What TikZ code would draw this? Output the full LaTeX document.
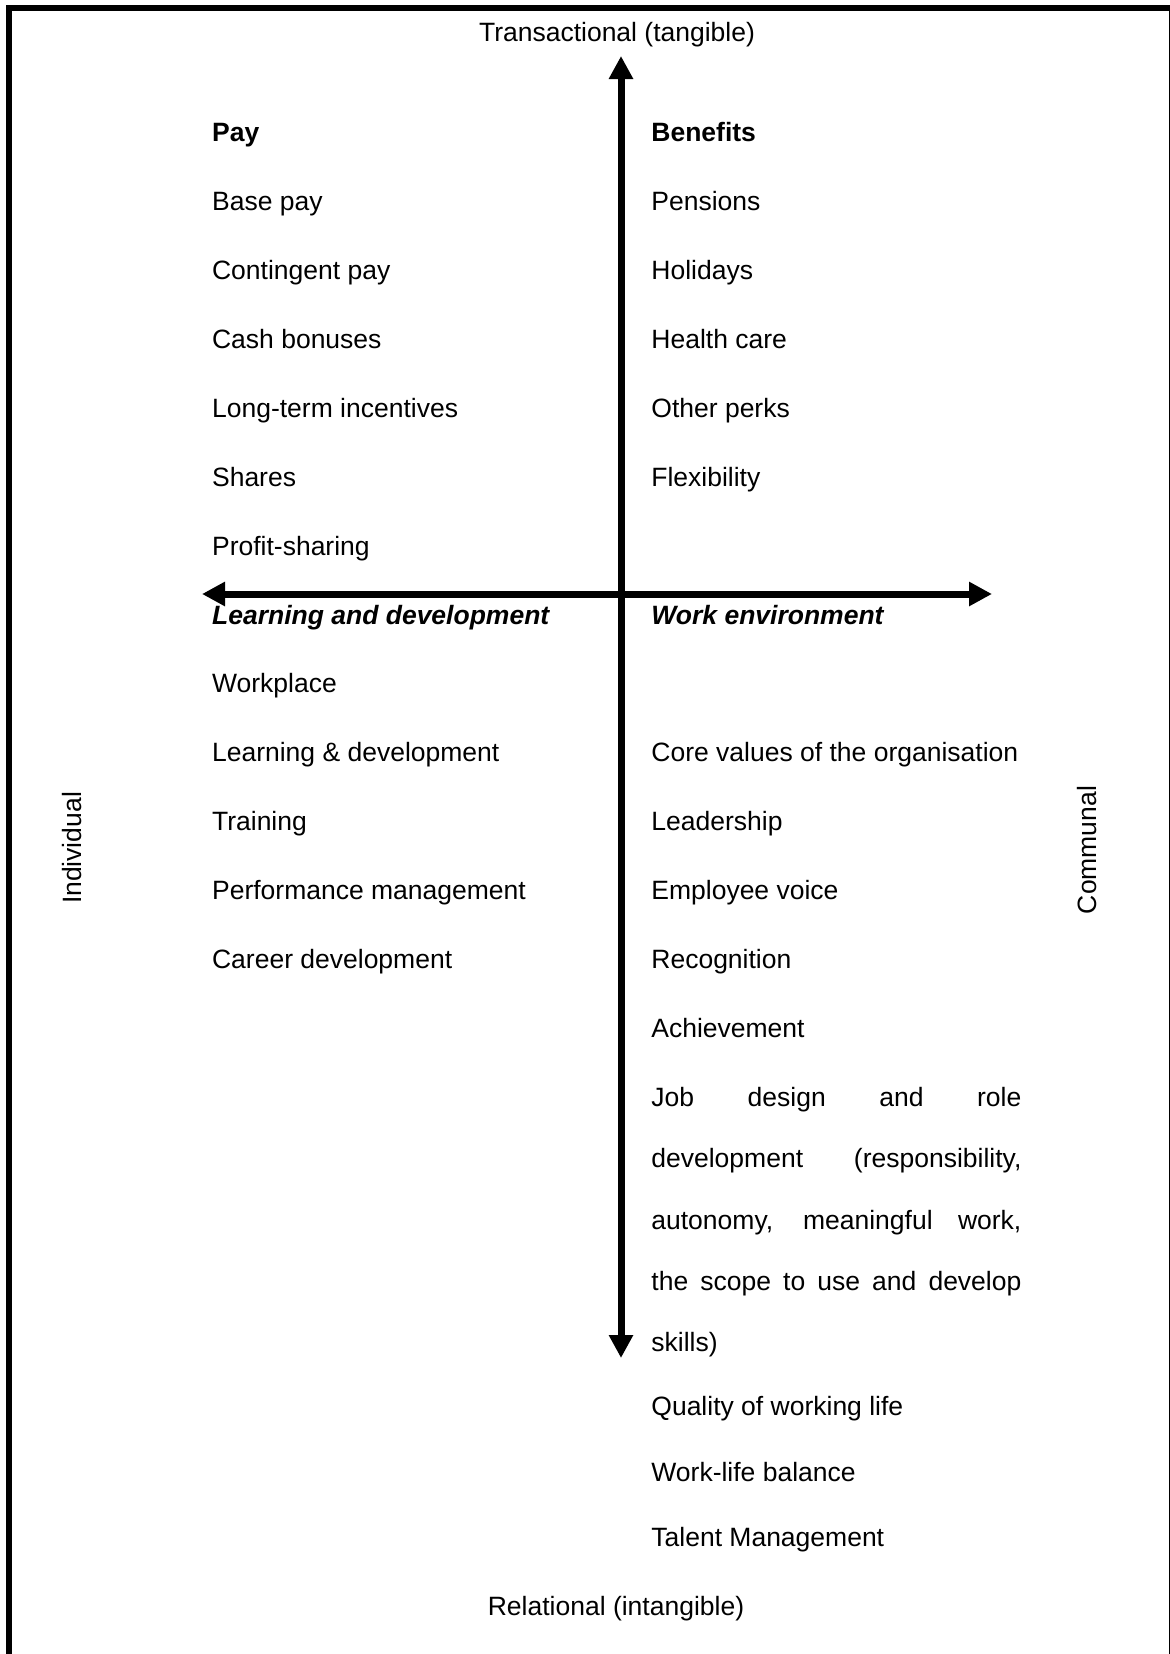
\documentclass[tikz,border=0pt]{standalone}
\usepackage{fontspec}
\setmainfont{Liberation Sans}
\usetikzlibrary{arrows.meta}
\begin{document}
\begin{tikzpicture}[x=0.5pt,y=-0.5pt,
  txt/.style={font=\fontsize{13.25}{15}\selectfont, inner sep=0pt, anchor=base west},
  ctr/.style={font=\fontsize{13.25}{15}\selectfont, inner sep=0pt, anchor=base},
  side/.style={font=\fontsize{13.25}{15}\selectfont, inner sep=0pt, anchor=center, rotate=90},
  head/.style={txt, font=\fontsize{13.25}{15}\selectfont\bfseries},
  headit/.style={txt, font=\fontsize{13.25}{15}\selectfont\bfseries\itshape},
  axis/.style={line width=3.5pt, {Triangle[length=11.5pt,width=11.5pt]}-{Triangle[length=11.5pt,width=11.5pt]}}]
\useasboundingbox (0,0) rectangle (1170,1654);
\clip (0,0) rectangle (1170,1654);
% frame
\draw[line width=3pt] (9,1720) -- (9,8) -- (1172,8) -- (1172,1720);
% axes
\coordinate (ntop) at (621,56);
\coordinate (nbot) at (621,1358);
\coordinate (wl) at (202,594);
\coordinate (er) at (992,594);
\draw[axis] (ntop) -- (nbot);
\draw[axis] (wl) -- (er);
% axis labels
\node[ctr] (trans) at (617,41) {Transactional (tangible)};
\node[ctr] (rel) at (616,1615) {Relational (intangible)};
\node[side] (ind) at (72,848) {Individual};
\node[side] (com) at (1087,850) {Communal};
% left column
\def\lx{211.7}
\def\rx{651}
\node[head] (p0) at (\lx,{141.7+68.9*0}) {Pay};
\node[txt] (p1) at (\lx,{141.7+68.9*1}) {Base pay};
\node[txt] (p2) at (\lx,{141.7+68.9*2}) {Contingent pay};
\node[txt] (p3) at (\lx,{141.7+68.9*3}) {Cash bonuses};
\node[txt] (p4) at (\lx,{141.7+68.9*4}) {Long-term incentives};
\node[txt] (p5) at (\lx,{141.7+68.9*5}) {Shares};
\node[txt] (p6) at (\lx,{141.7+68.9*6}) {Profit-sharing};
\node[headit] (ld) at (\lx,{141.7+68.9*7}) {Learning and development};
\node[txt] (l8) at (\lx,{141.7+68.9*8}) {Workplace};
\node[txt] (l9) at (\lx,{141.7+68.9*9}) {Learning \& development};
\node[txt] (l10) at (\lx,{141.7+68.9*10}) {Training};
\node[txt] (l11) at (\lx,{141.7+68.9*11}) {Performance management};
\node[txt] (l12) at (\lx,{141.7+68.9*12}) {Career development};
% right column
\node[head] (b0) at (\rx,{141.7+68.9*0}) {Benefits};
\node[txt] (b1) at (\rx,{141.7+68.9*1}) {Pensions};
\node[txt] (b2) at (\rx,{141.7+68.9*2}) {Holidays};
\node[txt] (b3) at (\rx,{141.7+68.9*3}) {Health care};
\node[txt] (b4) at (\rx,{141.7+68.9*4}) {Other perks};
\node[txt] (b5) at (\rx,{141.7+68.9*5}) {Flexibility};
\node[headit] (we) at (\rx,{141.7+68.9*7}) {Work environment};
\node[txt] (w9) at (\rx,{141.7+68.9*9}) {Core values of the organisation};
\node[txt] (w10) at (\rx,{141.7+68.9*10}) {Leadership};
\node[txt] (w11) at (\rx,{141.7+68.9*11}) {Employee voice};
\node[txt] (w12) at (\rx,{141.7+68.9*12}) {Recognition};
\node[txt] (w13) at (\rx,{141.7+68.9*13}) {Achievement};
% justified paragraph
\node[txt] (j1) at (\rx,1106) {\makebox[185pt][s]{Job design and role}};
\node[txt] (j2) at (\rx,1167) {\makebox[185pt][s]{development (responsibility,}};
\node[txt] (j3) at (\rx,1229) {\makebox[185pt][s]{autonomy, meaningful work,}};
\node[txt] (j4) at (\rx,1290) {\makebox[185pt][s]{the scope to use and develop}};
\node[txt] (j5) at (\rx,1351) {skills)};
\node[txt] (q) at (\rx,1415) {Quality of working life};
\node[txt] (wlb) at (\rx,1481) {Work-life balance};
\node[txt] (tm) at (\rx,1546) {Talent Management};
\end{tikzpicture}
\end{document}
